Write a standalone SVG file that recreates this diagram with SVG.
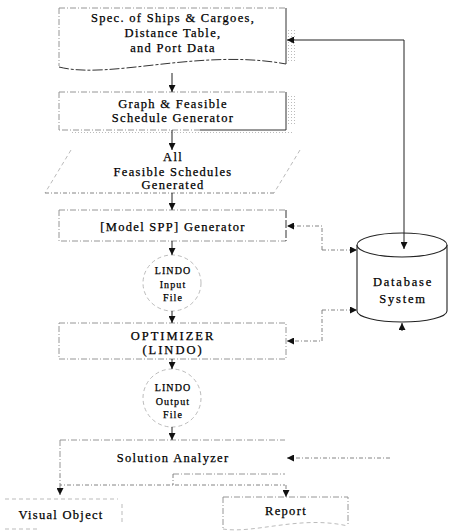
<svg xmlns="http://www.w3.org/2000/svg" width="450" height="531" viewBox="0 0 450 531">
<style>
text{font-family:"Liberation Serif","Times New Roman",serif;fill:#000;stroke:#000;stroke-width:0.25;text-anchor:middle;dominant-baseline:central}
.t{font-size:12.5px;letter-spacing:1.3px}
.s{font-size:10px;letter-spacing:1.1px}
.box{fill:none;stroke:#8a8a8a;stroke-width:0.9;stroke-dasharray:6 2 1 2}
.edge{fill:none;stroke:#333;stroke-width:1}
.faint{fill:none;stroke:#aaa;stroke-width:0.8;stroke-dasharray:4 3}
.flow{fill:none;stroke:#222;stroke-width:1}
.dash{fill:none;stroke:#777;stroke-width:0.9;stroke-dasharray:4 2 1 2}
.db{fill:#fff;stroke:#222;stroke-width:1.1}
.shadow{fill:url(#dots)}
</style>
<defs>
<marker id="ah" viewBox="0 0 10 10" refX="10" refY="5" markerWidth="7" markerHeight="7" markerUnits="userSpaceOnUse" orient="auto">
<path d="M0,0 L10,5 L0,10 z" fill="#111"/>
</marker>
<pattern id="dots" width="3" height="3" patternUnits="userSpaceOnUse">
<rect x="0" y="0" width="1" height="1" fill="#bbb"/>
</pattern>
</defs>

<g id="spec-doc">
<rect class="shadow" x="288" y="28" width="8" height="34"/>
<path class="box" d="M59,8 H286"/>
<path class="box" d="M59,8 V66"/>
<path class="edge" d="M286,8 V64"/>
<path class="edge" d="M59,67 C110,80 200,48 286,64" stroke-dasharray="10 2 3 2"/>
<text class="t" x="173" y="18">Spec. of Ships &amp; Cargoes,</text>
<text class="t" x="173" y="33">Distance Table,</text>
<text class="t" x="173" y="48">and Port Data</text>
</g>

<g id="graph-generator">
<rect class="shadow" x="288" y="96" width="7" height="30"/>
<rect class="shadow" x="70" y="131" width="222" height="3"/>
<path class="box" d="M59,92 H286 M59,92 V130"/>
<path class="edge" d="M286,92 V130 H200"/>
<path class="box" d="M200,130 H59"/>
<text class="t" x="173" y="104">Graph &amp; Feasible</text>
<text class="t" x="173" y="118">Schedule Generator</text>
</g>

<g id="all-schedules">
<path class="faint" d="M71,150 L45,193"/>
<path class="faint" d="M300,150 L274,193"/>
<path class="dash" d="M45,193 H274"/>
<text class="t" x="173" y="157">All</text>
<text class="t" x="173" y="172">Feasible Schedules</text>
<text class="t" x="173" y="185">Generated</text>
</g>

<g id="spp-generator">
<path class="box" d="M59,210 H286 M59,210 V241 H286"/>
<path class="edge" d="M286,210 V241" stroke-dasharray="8 2"/>
<text class="t" x="173" y="227">[Model SPP]  Generator</text>
</g>

<g id="lindo-input">
<ellipse class="faint" cx="172" cy="283" rx="29" ry="28"/>
<text class="s" x="173" y="270">LINDO</text>
<text class="s" x="173" y="284">Input</text>
<text class="s" x="173" y="297">File</text>
</g>

<g id="optimizer">
<path class="box" d="M59,323 H286 V359 H59 Z"/>
<text class="t" x="173" y="336" style="letter-spacing:2px">OPTIMIZER</text>
<text class="t" x="173" y="350" style="letter-spacing:2px">(LINDO)</text>
</g>

<g id="lindo-output">
<ellipse class="faint" cx="172" cy="398" rx="29" ry="29"/>
<text class="s" x="173" y="387">LINDO</text>
<text class="s" x="173" y="401">Output</text>
<text class="s" x="173" y="414">File</text>
</g>

<g id="solution-analyzer">
<path class="box" d="M60,440 H285 M60,440 V474"/>
<path class="box" d="M173,474 H285"/>
<text class="t" x="173" y="458">Solution Analyzer</text>
</g>

<g id="visual-object">
<path class="faint" d="M5,499 H118 M122,504 V524 M5,529 H40"/>
<text class="t" x="61" y="515">Visual Object</text>
</g>

<g id="report">
<path class="box" d="M223,497 H348 V526 M223,497 V528"/>
<path class="faint" d="M223,529 C255,534 300,515 348,526"/>
<text class="t" x="286" y="511">Report</text>
</g>

<g id="database">
<path class="db" d="M357,245 V311 A45,11 0 0 0 447,311 V245"/>
<ellipse class="db" cx="402" cy="245" rx="45" ry="12"/>
<text class="t" x="403" y="282" style="letter-spacing:1.8px">Database</text>
<text class="t" x="403" y="299" style="letter-spacing:1.8px">System</text>
</g>

<g id="connectors">
<path class="flow" d="M172,73 V92" marker-end="url(#ah)"/>
<path class="flow" d="M172,130 V150" marker-end="url(#ah)"/>
<path class="flow" d="M172,193 V210" marker-end="url(#ah)"/>
<path class="flow" d="M172,241 V255" marker-end="url(#ah)"/>
<path class="flow" d="M172,311 V323" marker-end="url(#ah)"/>
<path class="flow" d="M172,359 V369" marker-end="url(#ah)"/>
<path class="flow" d="M172,427 V440" marker-end="url(#ah)"/>
<path class="dash" d="M173,474 V485"/>
<path class="dash" d="M60,474 V485 H285"/>
<path class="dash" d="M60,485 V495" marker-end="url(#ah)"/>
<path class="dash" d="M286,485 V497" marker-end="url(#ah)"/>
<path class="flow" d="M404,40 H287" marker-end="url(#ah)"/>
<path class="flow" d="M404,40 V249" marker-end="url(#ah)"/>
<path class="dash" d="M322,250 V226 H287" marker-end="url(#ah)"/>
<path class="dash" d="M322,250 H357" marker-end="url(#ah)"/>
<path class="dash" d="M322,310 V341 H287" marker-end="url(#ah)"/>
<path class="dash" d="M322,310 H357" marker-end="url(#ah)"/>
<path class="dash" d="M390,458 H287" marker-end="url(#ah)"/>
<path class="flow" d="M402,331 V323" marker-end="url(#ah)"/>
</g>
</svg>
